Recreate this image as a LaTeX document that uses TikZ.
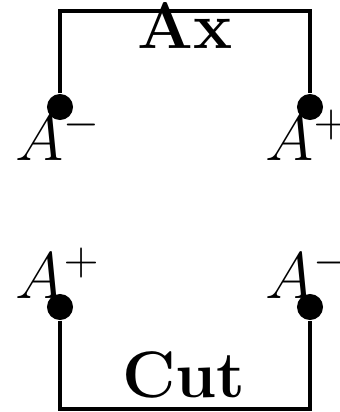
\RequirePackage{fix-cm}
\documentclass[tikz,border=0pt]{standalone}
\usepackage{tikz}
\usetikzlibrary{positioning}

\begin{document}
\begin{tikzpicture}[
    x=0.01cm, y=-0.01cm,
    dot/.style={circle, fill=black, inner sep=0pt, minimum size=0.26cm},
    wire/.style={line width=1pt, black},
    lbl/.style={font=\fontsize{18.7}{22}\selectfont, anchor=base, inner sep=0pt},
]
    \useasboundingbox (0,0) rectangle (340,412);

    % Top loop
    \node[dot] (am1) at (60,107) {};
    \node[dot] (ap1) at (310,107) {};
    \draw[wire] (am1) -- ++(0,-96) -| (ap1);
    \node[lbl] (ax) at (185,48) {\textbf{Ax}};
    \node[lbl] (lam1) at (58,160) {$A^-$};
    \node[lbl] (lap1) at (308,160) {$A^+$};

    % Bottom loop
    \node[dot] (ap2) at (60,307) {};
    \node[dot] (am2) at (310,307) {};
    \draw[wire] (ap2) -- ++(0,102) -| (am2);
    \node[lbl] (cut) at (184,397) {\textbf{Cut}};
    \node[lbl] (lap2) at (58,298) {$A^+$};
    \node[lbl] (lam2) at (308,298) {$A^-$};
\end{tikzpicture}
\end{document}
